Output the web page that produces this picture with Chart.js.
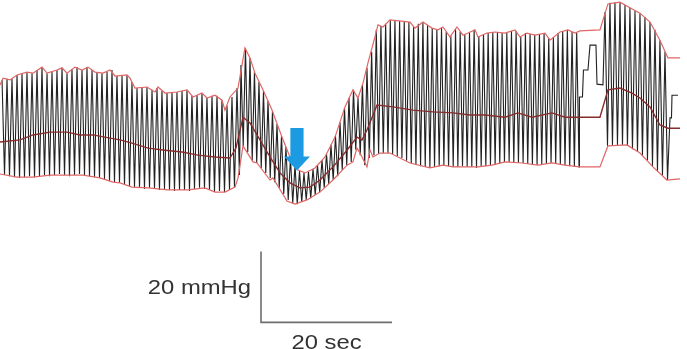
<!DOCTYPE html>
<html>
<head>
<meta charset="utf-8">
<script src="https://cdn.jsdelivr.net/npm/chart.js@4.4.0/dist/chart.umd.min.js"></script>
<style>
  html, body { margin: 0; padding: 0; background: #ffffff; }
  #wrap { width: 687px; height: 349px; }
</style>
</head>
<body>
<div id="wrap"><canvas id="c" width="687" height="349"></canvas></div>
<script>
// ---------- DATA (time in s, pressure in mmHg) ----------
// Pulse trace, beat by beat: systolic peak and following diastolic trough
const segA_T = [0.31,1.07,1.83,2.60,3.36,4.12,4.89,5.65,6.41,7.18,7.94,8.70,9.47,10.23,10.99,11.76,12.52,13.28,14.05,14.81,15.57,16.34,17.10,17.86,18.63,19.39,20.15,20.92,21.68,22.44,23.21,23.97,24.73,25.50,26.26,27.02,27.79,28.55,29.31,30.08,30.84,31.60,32.37,33.13,33.89,34.66,35.42,36.18];
const segA_Sys = [115.8,116.1,116.1,117.2,117.5,118.0,117.7,118.6,119.4,117.7,118.0,118.6,119.2,117.7,118.9,119.4,118.6,119.4,118.6,118.0,117.7,118.0,118.6,116.9,116.9,117.2,115.2,113.5,113.8,113.8,113.0,113.5,112.7,112.1,112.4,112.4,112.7,113.0,111.3,111.5,112.1,110.7,111.3,111.3,110.1,108.5,111.0,113.5];
const segA_Dia = [89.0,88.7,88.4,88.2,88.4,88.7,88.4,88.7,89.0,88.7,89.0,89.3,89.0,88.7,89.0,89.3,89.0,88.7,88.4,88.2,87.9,87.3,87.0,86.8,86.2,85.9,85.6,85.4,85.1,85.4,85.1,84.8,85.1,84.8,84.5,84.8,84.8,84.5,85.1,85.4,85.1,84.8,84.2,84.5,84.2,84.8,85.6,89.0];

const segB_T = [36.79,37.48,38.17,38.85,39.54,40.23,40.92,41.60,42.29,42.98,43.66,44.35,45.04,45.73,46.41,47.10,47.79,48.47,49.16,49.85,50.53,51.22,51.91,52.60,53.28,53.97,54.66,55.34];
const segB_Sys = [120.0,124.8,122.0,118.0,115.2,112.7,109.9,107.0,103.4,100.0,96.9,93.8,91.8,90.1,89.6,89.9,90.7,91.8,93.2,94.9,97.5,100.0,103.9,107.9,110.7,113.0,110.7,114.4];
const segB_Dia = [97.2,95.5,93.2,92.4,91.0,89.6,88.2,87.0,85.4,83.7,82.0,81.1,80.8,81.4,82.0,82.5,83.4,84.2,85.4,86.5,87.6,88.7,90.4,91.8,92.7,96.1,94.6,91.8];

const segC_T = [56.03,56.74,57.45,58.16,58.88,59.59,60.30,61.01,61.72,62.43,63.15,63.86,64.57,65.28,65.99,66.70,67.41,68.13,68.84,69.55,70.26,70.97,71.68,72.39,73.11,73.82,74.53,75.24,75.95,76.66,77.38,78.09,78.80,79.51,80.22,80.93,81.64,82.36,83.07,83.78,84.49,85.20,85.91,86.62,87.34,88.05];
const segC_Sys = [119.2,123.7,129.9,131.0,131.6,132.7,132.7,132.4,132.4,132.1,130.7,131.6,132.1,131.3,130.4,130.1,130.4,129.3,128.2,130.1,129.3,128.5,129.0,129.9,128.2,128.7,129.0,129.3,129.3,129.0,129.0,129.6,129.6,127.9,129.0,128.7,128.5,128.7,129.0,127.6,127.9,129.0,129.6,129.9,129.3,129.0];
const segC_Dia = [93.8,94.6,94.9,95.2,95.2,94.9,94.4,93.8,93.0,92.4,91.8,91.5,91.3,91.0,91.3,91.5,91.8,91.5,91.3,91.3,91.5,91.3,91.3,91.0,91.3,91.5,91.8,91.8,92.1,92.7,92.7,92.4,92.4,92.4,92.1,91.8,91.8,92.1,92.1,92.4,92.1,91.8,91.8,91.5,91.3,91.3];

// calibration steps between recordings
const calT = [88.47,88.93,89.08,89.77,90.08,90.99,91.15,92.06];
const calP = [111.0,111.0,118.6,118.6,125.6,125.6,114.6,114.4];

const segD_T = [92.37,93.13,93.89,94.66,95.42,96.18,96.95,97.71,98.47,99.24,100.00,100.76,101.53];
const segD_Sys = [134.9,137.5,137.7,137.7,136.9,136.1,135.2,134.6,133.5,132.1,129.9,127.0,123.7];
const segD_Dia = [97.2,97.5,97.5,97.5,97.2,96.3,95.5,94.6,93.2,91.5,90.1,89.0,87.6];

const endT = [102.29,102.52,102.60,103.51];
const endP = [105.1,105.1,111.5,111.5];

// Envelopes (red) and mean pressure (dark red)
const upperT = [0,0.46,1.53,2.60,4.12,5.04,6.41,7.18,8.70,9.47,10.23,11.45,12.52,13.44,14.50,15.73,16.79,17.56,19.39,19.85,20.61,22.44,23.66,24.12,25.19,27.02,28.55,29.47,30.84,31.60,32.82,33.89,34.35,35.11,36.34,37.40,38.17,38.93,40.15,41.53,43.05,44.27,45.50,46.56,48.09,49.62,51.15,52.67,53.89,54.66,55.42,56.18,57.25,57.71,58.47,59.54,62.60,63.36,64.58,65.95,66.87,67.63,68.70,69.77,70.69,71.45,72.52,72.98,74.35,75.57,77.10,78.63,79.39,80.46,81.68,83.21,83.97,85.50,86.72,87.79,88.55,91.60,92.82,94.66,96.18,97.71,99.24,100.76,101.98,103.82];
const upperP = [114.4,116.3,115.8,117.2,118.0,117.7,119.4,117.7,118.6,119.2,117.7,119.4,118.6,119.4,118.0,117.7,118.6,116.9,117.2,116.3,113.5,113.8,112.4,113.8,112.1,112.4,113.0,111.0,112.1,110.7,111.5,110.1,107.3,111.0,113.5,124.8,122.0,117.7,113.0,107.3,99.7,94.1,90.4,89.6,91.0,94.1,99.7,108.2,113.0,110.7,114.9,120.6,127.9,131.3,130.7,132.7,132.1,130.4,132.1,130.4,129.9,130.7,127.9,130.7,128.4,129.0,129.9,127.9,129.0,129.3,129.0,129.9,127.9,129.0,128.4,129.0,127.0,129.3,129.9,129.0,129.6,129.9,137.2,137.7,136.1,134.6,132.1,127.0,122.0,122.0];

const lowerT = [0,2.60,5.04,7.63,10.23,12.67,15.27,17.25,18.32,20.15,22.60,25.65,28.70,31.30,32.82,34.35,35.88,36.34,37.10,38.63,39.24,41.22,41.68,43.82,45.04,46.87,48.85,50.84,52.98,53.89,54.50,54.96,56.03,56.49,56.95,58.02,59.54,62.60,65.65,67.63,69.16,71.76,72.98,75.11,77.10,79.69,82.14,84.27,86.26,88.55,91.60,92.82,95.73,97.71,99.69,101.83,103.82];
const lowerP = [89.3,88.4,88.4,89.0,89.0,89.0,88.2,87.0,86.8,85.6,85.4,84.8,84.8,85.4,84.2,84.2,85.6,88.2,97.2,92.7,92.4,87.6,88.2,81.7,80.8,82.0,84.2,87.6,91.8,92.7,96.6,95.2,91.3,96.1,94.1,95.2,95.2,92.4,91.0,91.8,91.3,91.3,91.3,91.8,92.7,92.4,91.8,92.4,91.8,91.3,91.3,97.2,97.5,95.2,91.3,87.6,87.9];

const meanT = [0,3.05,5.04,7.63,10.23,12.21,14.20,16.79,18.32,20.15,22.60,25.19,27.79,30.23,32.82,35.11,36.03,37.10,38.17,39.69,41.22,42.75,44.27,45.80,47.33,48.85,50.84,52.98,54.50,55.27,56.03,57.56,60.00,63.05,66.11,69.16,71.76,74.05,77.10,79.08,81.22,84.27,86.26,88.55,91.60,92.82,94.66,96.49,97.71,99.24,100.76,101.98,103.82];
const meanP = [98.3,98.9,100.3,101.1,101.1,100.3,100.3,99.4,98.9,98.0,96.6,96.0,95.5,94.6,94.1,93.8,96.6,105.3,103.7,98.9,94.1,89.6,86.8,85.4,85.6,87.6,91.3,96.0,99.7,98.9,101.7,108.7,108.2,107.3,106.8,106.5,105.9,105.9,105.3,106.5,105.3,106.5,105.3,105.3,105.3,113.0,113.5,112.1,110.7,108.2,103.1,102.2,102.2];

// Scale bar (20 sec x 20 mmHg) and marker
const scaleBarOrigin = { t: 39.85, p: 47.5 };
const scaleBarSec = 20;
const scaleBarMmHg = 20;
const scaleLabels = ["20 mmHg", "20 sec"];
const arrowTip = { t: 45.34, p: 90.3 };

// ---------- BUILD ----------
function pairs(T, P) { return T.map((t, i) => ({ x: t, y: P[i] })); }
function beats(T, S, D) {
  const pts = [];
  for (let i = 0; i < T.length; i++) {
    pts.push({ x: T[i], y: S[i] });
    const step = i < T.length - 1 ? T[i + 1] - T[i] : T[i] - T[i - 1];
    pts.push({ x: T[i] + step / 2, y: D[i] });
  }
  return pts;
}
const pulse = [].concat(
  beats(segA_T, segA_Sys, segA_Dia),
  beats(segB_T, segB_Sys, segB_Dia),
  beats(segC_T, segC_Sys, segC_Dia),
  pairs(calT, calP),
  beats(segD_T, segD_Sys, segD_Dia),
  pairs(endT, endP)
);
const o = scaleBarOrigin;
const scaleBar = [
  { x: o.t, y: o.p + scaleBarMmHg },
  { x: o.t, y: o.p },
  { x: o.t + scaleBarSec, y: o.p }
];

const overlay = {
  id: 'overlay',
  afterDatasetsDraw(chart) {
    const ctx = chart.ctx, xs = chart.scales.x, ys = chart.scales.y;
    // arrow
    const tx = xs.getPixelForValue(arrowTip.t), ty = ys.getPixelForValue(arrowTip.p);
    ctx.save();
    ctx.fillStyle = '#1c9be3';
    ctx.beginPath();
    ctx.moveTo(tx - 6.6, ty - 42.5);
    ctx.lineTo(tx + 6.6, ty - 42.5);
    ctx.lineTo(tx + 6.6, ty - 14);
    ctx.lineTo(tx + 13, ty - 14);
    ctx.lineTo(tx, ty);
    ctx.lineTo(tx - 13, ty - 14);
    ctx.lineTo(tx - 6.6, ty - 14);
    ctx.closePath();
    ctx.fill();
    ctx.restore();
    // scale labels
    const bx = xs.getPixelForValue(o.t);
    const by = ys.getPixelForValue(o.p);
    const bmid = ys.getPixelForValue(o.p + scaleBarMmHg / 2);
    const cx = xs.getPixelForValue(o.t + scaleBarSec / 2);
    ctx.save();
    ctx.fillStyle = '#333333';
    ctx.font = '20px "Liberation Sans", Arial, sans-serif';
    ctx.textBaseline = 'alphabetic';
    ctx.save();
    ctx.translate(bx - 10, bmid + 7);
    ctx.scale(1.19, 1);
    ctx.textAlign = 'right';
    ctx.fillText(scaleLabels[0], 0, 0);
    ctx.restore();
    ctx.save();
    ctx.translate(cx, by + 27);
    ctx.scale(1.19, 1);
    ctx.textAlign = 'center';
    ctx.fillText(scaleLabels[1], 0, 0);
    ctx.restore();
    ctx.restore();
  }
};

new Chart(document.getElementById('c'), {
  type: 'line',
  data: {
    datasets: [
      { data: pairs(meanT, meanP), borderColor: '#872c2c', borderWidth: 1.4, order: 1 },
      { data: pairs(upperT, upperP), borderColor: '#e06666', borderWidth: 1.2, order: 1 },
      { data: pairs(lowerT, lowerP), borderColor: '#e06666', borderWidth: 1.2, order: 1 },
      { data: pulse, borderColor: '#222222', borderWidth: 1.1, order: 3 },
      { data: scaleBar, borderColor: '#6e6e6e', borderWidth: 1.6, order: 2 }
    ]
  },
  options: {
    responsive: false,
    maintainAspectRatio: false,
    animation: false,
    events: [],
    layout: { padding: 0 },
    elements: { point: { radius: 0 }, line: { tension: 0, fill: false } },
    plugins: { legend: { display: false }, tooltip: { enabled: false }, title: { display: false } },
    scales: {
      x: { type: 'linear', min: 0, max: 104.89, display: false },
      y: { type: 'linear', min: 40.0, max: 138.31, display: false }
    }
  },
  plugins: [overlay]
});
</script>
</body>
</html>
